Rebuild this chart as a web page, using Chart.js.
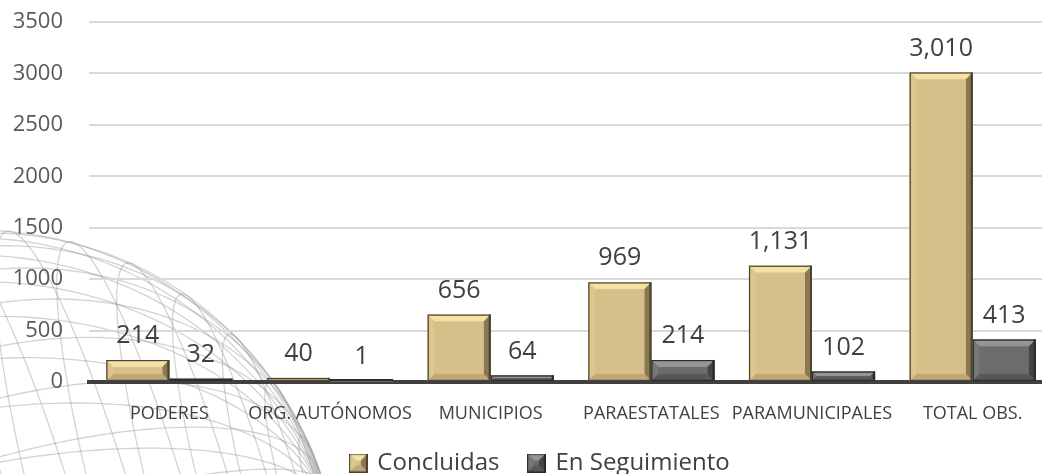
<!DOCTYPE html>
<html>
<head>
<meta charset="utf-8">
<script src="https://cdn.jsdelivr.net/npm/chart.js@4/dist/chart.umd.min.js"></script>
<style>
  html, body { margin: 0; padding: 0; background: #fff; overflow: hidden; }
  #wrap { width: 1053px; height: 474px; position: relative; }
</style>
</head>
<body>
<div id="wrap"><canvas id="obsChart"></canvas></div>
<script>
const categories = ["PODERES", "ORG. AUTÓNOMOS", "MUNICIPIOS", "PARAESTATALES", "PARAMUNICIPALES", "TOTAL OBS."];
const concluidas = [214, 40, 656, 969, 1131, 3010];
const enSeguimiento = [32, 1, 64, 214, 102, 413];
const yTicks = [0, 500, 1000, 1500, 2000, 2500, 3000, 3500];

// bevel colours: face, top, left, right, bottom, border
const tanBevel = ["#d6c08a", "#f3e1a6", "#dcc78f", "#8a7850", "#bda876", "#4d4331"];
const grayBevel = ["#6c6c6c", "#959595", "#777777", "#444444", "#585858", "#2c2c2c"];

function drawBevel(ctx, left, top, w, h, c) {
  const b = Math.min(7, h / 2, w / 2);
  const right = left + w, bottom = top + h;
  ctx.save();
  ctx.fillStyle = c[0];
  ctx.fillRect(left, top, w, h);
  const facet = (pts, col) => {
    ctx.beginPath();
    ctx.moveTo(pts[0][0], pts[0][1]);
    for (let i = 1; i < pts.length; i++) ctx.lineTo(pts[i][0], pts[i][1]);
    ctx.closePath();
    ctx.fillStyle = col;
    ctx.fill();
  };
  facet([[left, top], [right, top], [right - b, top + b], [left + b, top + b]], c[1]);
  facet([[left, top], [left + b, top + b], [left + b, bottom - b], [left, bottom]], c[2]);
  facet([[right, top], [right, bottom], [right - b, bottom - b], [right - b, top + b]], c[3]);
  facet([[left, bottom], [left + b, bottom - b], [right - b, bottom - b], [right, bottom]], c[4]);
  ctx.fillStyle = c[0];
  ctx.fillRect(left + b, top + b, w - 2 * b, h - 2 * b);
  // dark right rim
  ctx.fillStyle = c[5];
  ctx.fillRect(right - 2, top, 2, h);
  ctx.strokeStyle = c[5];
  ctx.lineWidth = 1.2;
  ctx.strokeRect(left + 0.6, top + 0.6, w - 1.2, h - 1.2);
  ctx.restore();
}

function legendIcon(c) {
  const cv = document.createElement("canvas");
  cv.width = 19; cv.height = 19;
  drawBevel(cv.getContext("2d"), 0, 0, 19, 19, c);
  return cv;
}

// light wireframe globe in the lower left corner
const globeBg = {
  id: "globeBg",
  afterLayout(chart) {
    // the legend sits a little right of centre in the original
    chart.legend.left += 14;
    chart.legend.right += 14;
  },
  beforeDraw(chart) {
    const ctx = chart.ctx;
    const cx = -20, cy = 590, R = 360;
    const tilt = 0.15, rot = -1.3;
    const project = (lat, lon) => {
      const x = Math.cos(lat) * Math.sin(lon);
      const y = Math.sin(lat);
      const z = Math.cos(lat) * Math.cos(lon);
      const y2 = y * Math.cos(tilt) - z * Math.sin(tilt);
      const x3 = x * Math.cos(rot) - y2 * Math.sin(rot);
      const y3 = x * Math.sin(rot) + y2 * Math.cos(rot);
      return [cx + R * x3, cy - R * y3];
    };
    ctx.save();
    ctx.strokeStyle = "rgba(150,150,150,0.42)";
    ctx.lineWidth = 1.3;
    const step = Math.PI / 120;
    for (let k = -8; k <= 8; k++) {
      const lat = k * Math.PI / 18;
      ctx.beginPath();
      for (let lon = -Math.PI; lon <= Math.PI + 0.001; lon += step) {
        const p = project(lat, lon);
        lon === -Math.PI ? ctx.moveTo(p[0], p[1]) : ctx.lineTo(p[0], p[1]);
      }
      ctx.stroke();
    }
    for (let k = 0; k < 18; k++) {
      const lon = k * Math.PI / 18;
      ctx.beginPath();
      let first = true;
      for (let lat = -Math.PI; lat <= Math.PI + 0.001; lat += step) {
        const p = project(lat, lon);
        first ? ctx.moveTo(p[0], p[1]) : ctx.lineTo(p[0], p[1]);
        first = false;
      }
      ctx.stroke();
    }
    ctx.restore();
  }
};

const bevelBars = {
  id: "bevelBars",
  afterDatasetsDraw(chart) {
    const ctx = chart.ctx;
    chart.data.datasets.forEach((ds, di) => {
      const meta = chart.getDatasetMeta(di);
      const cols = di === 0 ? tanBevel : grayBevel;
      meta.data.forEach((bar, i) => {
        const p = bar.getProps(["x", "y", "base", "width"], true);
        const left = p.x - p.width / 2;
        const top = Math.min(p.y, p.base);
        const h = Math.max(Math.abs(p.base - p.y), 2);
        drawBevel(ctx, left, p.base - h, p.width, h, cols);
        // value label
        ctx.save();
        ctx.font = "25px 'Open Sans'";
        ctx.fillStyle = "#404040";
        ctx.textAlign = "center";
        ctx.textBaseline = "middle";
        ctx.fillText(ds.data[i].toLocaleString("en-US"), p.x, top - 24);
        ctx.restore();
      });
    });
  }
};

const ctx = document.getElementById("obsChart").getContext("2d");
new Chart(ctx, {
  type: "bar",
  data: {
    labels: categories,
    datasets: [
      { label: "Concluidas", data: concluidas, backgroundColor: tanBevel[0] },
      { label: "En Seguimiento", data: enSeguimiento, backgroundColor: grayBevel[0] }
    ]
  },
  options: {
    responsive: true,
    maintainAspectRatio: false,
    animation: false,
    devicePixelRatio: 1,
    layout: { padding: { top: 22, right: 0, left: 0, bottom: 0 } },
    datasets: { bar: { categoryPercentage: 0.785, barPercentage: 1.0 } },
    scales: {
      x: {
        grid: { display: false },
        border: { display: true, color: "#404040", width: 4 },
        afterFit(scale) { scale.height = 39; },
        ticks: {
          color: "#404040",
          font: { family: "'Open Sans'", size: 18 },
          padding: 13,
          maxRotation: 0,
          autoSkip: false
        }
      },
      y: {
        min: 0,
        max: 3500,
        afterBuildTicks(scale) { scale.ticks = yTicks.map(v => ({ value: v })); },
        afterFit(scale) {
          scale.width = 89;
          scale.paddingTop = 0;
          scale.paddingBottom = 0;
        },
        border: { display: false },
        grid: {
          color: (c) => c.tick && c.tick.value === 0 ? "#404040" : "#d9d9d9",
          lineWidth: 2,
          drawTicks: false
        },
        ticks: {
          color: "#595959",
          font: { family: "'Open Sans'", size: 22 },
          padding: 26,
          callback: (v) => String(v)
        }
      }
    },
    plugins: {
      tooltip: { enabled: false },
      legend: {
        position: "bottom",
        maxHeight: 53,
        labels: {
          usePointStyle: true,
          boxWidth: 14,
          padding: 30,
          color: "#404040",
          font: { family: "'Open Sans'", size: 24 },
          generateLabels(chart) {
            return chart.data.datasets.map((ds, i) => ({
              text: ds.label,
              pointStyle: legendIcon(i === 0 ? tanBevel : grayBevel),
              fillStyle: ds.backgroundColor,
              strokeStyle: "transparent",
              lineWidth: 0,
              fontColor: "#404040",
              datasetIndex: i
            }));
          }
        }
      }
    }
  },
  plugins: [globeBg, bevelBars]
});
</script>
</body>
</html>
